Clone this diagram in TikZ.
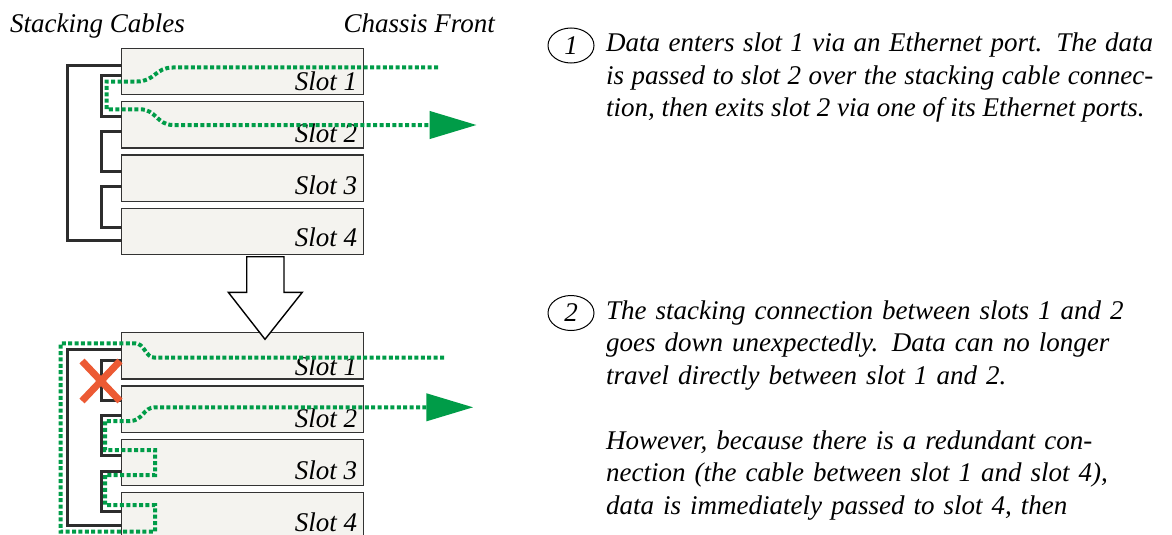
\documentclass[tikz,border=0pt]{standalone}
\usepackage{fontspec}
\setmainfont{Liberation Serif}
\usetikzlibrary{arrows.meta,shapes.geometric}

\definecolor{slotfill}{RGB}{244,243,239}
\definecolor{cablegray}{RGB}{45,45,45}
\definecolor{datagreen}{RGB}{0,156,72}
\definecolor{faultred}{RGB}{236,90,52}

\tikzset{
	slotbox/.style={draw=black!80, fill=slotfill, line width=1.3pt, minimum width=241.6pt, minimum height=46.3pt, anchor=north west, inner sep=0pt, outer sep=0pt},
	slotlabel/.style={anchor=base east, inner sep=0pt, font=\fontsize{27}{32.5}\selectfont\itshape},
	cable/.style={draw=cablegray, line width=3pt},
	datapath/.style={draw=datagreen, line width=4pt, dash pattern=on 4pt off 2.4pt},
	greentip/.style={-{Triangle[length=47pt,width=27pt,fill=datagreen]}},
	callout/.style={draw, ellipse, line width=1pt, minimum width=46pt, minimum height=35pt, inner sep=0pt, font=\fontsize{27}{32.5}\selectfont\itshape},
	note/.style={anchor=base west, inner sep=0pt, text width=547pt, font=\fontsize{27}{32.5}\selectfont\itshape},
	header/.style={inner sep=0pt, font=\fontsize{27}{32.5}\selectfont\itshape}
}

\begin{document}
\begin{tikzpicture}[x=1pt, y=-1pt]
	\useasboundingbox (0,0) rectangle (1172,535);
	\clip (0,0) rectangle (1172,535);

	% Заголовки
	\node[header, anchor=base west] (hcables) at (10,33) {Stacking Cables};
	\node[header, anchor=base east] (hfront) at (495,33) {Chassis Front};

	% Слоты
	\foreach \i in {1,...,4} {
		\node[slotbox] (t\i) at (121.7, {48.3+53.3*(\i-1)}) {};
		\node[slotlabel] at ([xshift=-6pt, yshift={4+1.3*(\i-1)}]t\i.south east) {Slot \i};
		\node[slotbox] (b\i) at (121.7, {332.7+53.3*(\i-1)}) {};
		\node[slotlabel] at ([xshift=-6pt, yshift={4+1.3*(\i-1)}]b\i.south east) {Slot \i};
	}

	% Кабели
	\foreach \r in {t,b} {
		\draw[cable] ([yshift=-17pt]\r1.north west) -- ++(-54,0) |- ([yshift=-32.5pt]\r4.north west);
		\draw[cable] ([yshift=-27.5pt]\r1.north west) -- ++(-20,0) |- ([yshift=-14.5pt]\r2.north west);
		\draw[cable] ([yshift=-29.5pt]\r2.north west) -- ++(-20,0) |- ([yshift=-16.5pt]\r3.north west);
		\draw[cable] ([yshift=-32pt]\r3.north west) -- ++(-20,0) |- ([yshift=-19pt]\r4.north west);
	}

	% Поток данных
	\coordinate (in1) at (438,67.5);
	\coordinate (out1) at (476.7,125);
	\draw[datapath, greentip] (in1) -- (173,67.5) .. controls (155,67.5) and (155,81.5) .. (137,81.5)
		-- (106.7,81.5) -- (106.7,109.3) -- (140,109.3) .. controls (156,109.3) and (157,125) .. (173,125) -- (out1);

	\coordinate (in2) at (444,357.7);
	\coordinate (out2) at (473.3,407.3);
	\draw[datapath, greentip] (in2) -- (155,357.7) .. controls (145,357.7) and (145,343.3) .. (135,343.3)
		-- (60.7,343.3) -- (60.7,531.7) -- (155,531.7) -- (155,505) -- (105,505) -- (105,475)
		-- (155,475) -- (155,450) -- (105,450) -- (105,421) -- (130,421)
		.. controls (143,421) and (143,407.3) .. (155,407.3) -- (out2);

	% Обрыв
	\draw[faultred, line width=7pt] (82,361) -- (120,401) (120,361) -- (82,401);

	% Стрелка вниз
	\draw[fill=white, line width=1.4pt] (246.7,256.7) -- (284,256.7) -- (284,292.3) -- (302.3,292.3)
		-- (265,339.3) -- (228.3,292.3) -- (246.7,292.3) -- cycle;

	% Пояснения
	\node[callout] (c1) at (571,45.5) {1};
	\node[note, align=justify] (n1) at (606,52) {Data enters slot 1 via an Ethernet port. The data\linebreak
		is passed to slot 2 over the stacking cable connec-\linebreak
		tion, then exits slot 2 via one of its Ethernet ports.};

	\node[callout] (c2) at (571,313) {2};
	\node[note, align=left] (n2) at (606,319) {The stacking connection between slots 1 and 2\\
		goes down unexpectedly. Data can no longer\\
		travel directly between slot 1 and 2.\\[32.5pt]
		However, because there is a redundant con-\\
		nection (the cable between slot 1 and slot 4),\\
		data is immediately passed to slot 4, then};
\end{tikzpicture}
\end{document}
